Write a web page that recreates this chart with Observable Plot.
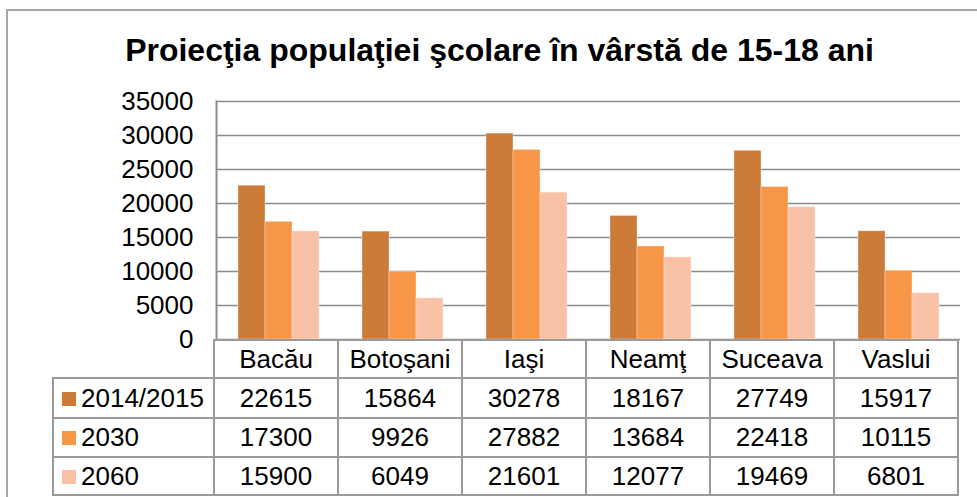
<!DOCTYPE html>
<html><head><meta charset="utf-8">
<script src="https://cdn.jsdelivr.net/npm/d3@7"></script>
<script src="https://cdn.jsdelivr.net/npm/@observablehq/plot@0.6"></script>
<style>
body{margin:0;background:#fff;font-family:"Liberation Sans",Arial,sans-serif;}
#wrap{position:relative;width:977px;height:497px;overflow:hidden;background:#fff}
#frame{position:absolute;left:6px;top:9px;width:1100px;height:1100px;border:2px solid #a6a6a6;box-sizing:border-box}
#title{position:absolute;left:0;width:999px;top:32px;text-align:center;font-weight:bold;font-size:32px;line-height:36px;color:#000}
#chart{position:absolute;left:0;top:0}
#tbl{position:absolute;border-collapse:collapse;table-layout:fixed;font-size:26px;color:#000}
#tbl td{border:2px solid #9a9a9a;text-align:center;padding:0;white-space:nowrap;overflow:hidden;box-sizing:border-box}
#tbl td.lab{text-align:left;padding-left:8px}
#tbl .sw{display:inline-block;width:14px;height:14px;margin-right:5px;vertical-align:1px}
</style></head>
<body><div id="wrap"><div id="frame"></div><div id="title">Proiecţia populaţiei şcolare în vârstă de 15-18 ani</div></div>
<script>
const counties = ["Bacău","Botoşani","Iaşi","Neamţ","Suceava","Vaslui"];
const series = ["2014/2015","2030","2060"];
const v2014 = [22615,15864,30278,18167,27749,15917];
const v2030 = [17300,9926,27882,13684,22418,10115];
const v2060 = [15900,6049,21601,12077,19469,6801];
const colors = ["#CC7A38","#F79646","#F9C1A5"];
const yTicks = [0,5000,10000,15000,20000,25000,30000,35000];

const valuesBySeries = [v2014, v2030, v2060];
const data = [];
counties.forEach((c, i) => series.forEach((s, j) => data.push({county: c, series: s, value: valuesBySeries[j][i]})));

const grid = "#8c8c8c";
const chart = Plot.plot({
  width: 977, height: 360,
  marginLeft: 213, marginRight: 15, marginTop: 101, marginBottom: 21,
  style: {fontFamily: "Liberation Sans, Arial, sans-serif", fontSize: "26px", background: "transparent", color: "#000"},
  fx: {domain: counties, padding: 0, axis: null},
  x: {domain: series, paddingInner: 0, paddingOuter: 0.73, axis: null},
  y: {domain: [0, 35000], axis: null},
  color: {domain: series, range: colors},
  marks: [
    Plot.ruleY(yTicks, {stroke: grid, strokeWidth: 1.6}),
    Plot.frame({anchor: "left", stroke: grid, strokeWidth: 2, facetAnchor: "left"}),
    Plot.axisY(yTicks, {tickSize: 0, tickPadding: 23, tickFormat: d => String(d), label: null, fontSize: 26, fill: "#000", facetAnchor: "left"}),
    Plot.barY(data, {fx: "county", x: "series", y: "value", fill: "series", stroke: "#ffffff", strokeOpacity: 0.35, strokeWidth: 1, inset: 0})
  ]
});
chart.id = "chart";
document.getElementById("wrap").appendChild(chart);

// Data table aligned with the fx scale
const fx = chart.scale("fx");
const step = fx.step;
const left0 = fx.range[0];
const rowH = [38, 40, 39, 38];
const tbl = document.createElement("table");
tbl.id = "tbl";
const firstW = left0 - 52;
tbl.style.left = "52px";
tbl.style.top = "339px";
const cg = document.createElement("colgroup");
[firstW, ...counties.map(() => step)].forEach(w => { const c = document.createElement("col"); c.style.width = w + "px"; cg.appendChild(c); });
tbl.appendChild(cg);
tbl.style.width = (firstW + step * counties.length) + "px";
const hr = document.createElement("tr");
hr.style.height = rowH[0] + "px";
const h0 = document.createElement("td");
h0.style.borderLeft = "none"; h0.style.borderTop = "none";
hr.appendChild(h0);
counties.forEach(c => { const td = document.createElement("td"); td.textContent = c; hr.appendChild(td); });
tbl.appendChild(hr);
series.forEach((s, j) => {
  const tr = document.createElement("tr");
  tr.style.height = rowH[j + 1] + "px";
  const lab = document.createElement("td");
  lab.className = "lab";
  const sw = document.createElement("span"); sw.className = "sw"; sw.style.background = colors[j];
  lab.appendChild(sw); lab.appendChild(document.createTextNode(s));
  tr.appendChild(lab);
  valuesBySeries[j].forEach(v => { const td = document.createElement("td"); td.textContent = String(v); tr.appendChild(td); });
  tbl.appendChild(tr);
});
document.getElementById("wrap").appendChild(tbl);
</script></body></html>
